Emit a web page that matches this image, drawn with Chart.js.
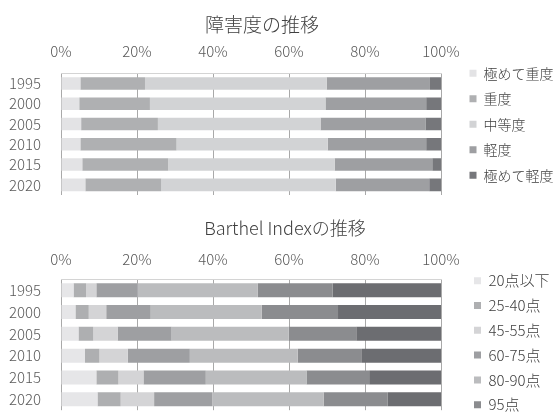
<!DOCTYPE html>
<html>
<head>
<meta charset="utf-8">
<script src="https://cdn.jsdelivr.net/npm/chart.js@4.4.0/dist/chart.umd.min.js"></script>
<style>
html, body { margin: 0; padding: 0; background: #fff; overflow: hidden; }
#wrap { position: relative; width: 553px; height: 412px; overflow: hidden; }
.box { position: absolute; left: 0; width: 553px; }
.ttl { position: absolute; white-space: nowrap; transform: translate(-50%, -50%);
       font-family: "Noto Sans CJK JP", "Noto Sans", sans-serif; font-weight: 300; color: #404040; }
</style>
</head>
<body>
<div id="wrap">
  <div class="box" style="top:0;height:195px"><canvas id="c1"></canvas></div>
  <div class="box" style="top:205px;height:210px"><canvas id="c2"></canvas></div>
  <div class="ttl" style="left:262px;top:23px;font-size:19px">障害度の推移</div>
  <div class="ttl" style="left:285px;top:227px;font-size:18px">Barthel Indexの推移</div>
</div>
<script>
/* globals Chart:false */

var years = ['1995', '2000', '2005', '2010', '2015', '2020'];
var xTicks = [0, 20, 40, 60, 80, 100];

// 障害度 (%)
var sevNames = ['極めて重度', '重度', '中等度', '軽度', '極めて軽度'];
var sevVeryHeavy = [5.1, 4.8, 5.3, 5.1, 5.6, 6.4];
var sevHeavy     = [17.0, 18.6, 20.2, 25.3, 22.6, 20.0];
var sevMiddle    = [47.8, 46.2, 42.8, 39.8, 43.8, 45.9];
var sevLight     = [27.2, 26.5, 27.6, 25.9, 25.7, 24.6];
var sevVeryLight = [2.9, 3.9, 4.1, 3.9, 2.3, 3.1];

// Barthel Index (%)
var biNames = ['20点以下', '25-40点', '45-55点', '60-75点', '80-90点', '95点', '100点'];
var bi20  = [3.3, 3.8, 4.6, 6.3, 9.3, 9.6];
var bi40  = [3.3, 3.5, 3.9, 3.8, 5.8, 6.1];
var bi55  = [2.7, 4.6, 6.4, 7.5, 6.6, 8.8];
var bi75  = [10.8, 11.7, 14.2, 16.3, 16.4, 15.3];
var bi90  = [31.7, 29.2, 30.8, 28.4, 26.5, 29.3];
var bi95  = [19.7, 20.1, 17.8, 16.9, 16.5, 16.9];
var bi100 = [28.5, 27.1, 22.3, 20.8, 18.9, 14.0];

var sevColors = ['#e3e3e5', '#afb0b2', '#d2d3d5', '#9e9fa2', '#76777b'];
var biColors = ['#e6e6e8', '#aeafb1', '#d4d4d6', '#9e9fa2', '#bbbcbe', '#8b8c8f', '#6c6d71'];

Chart.defaults.font.family = '"Noto Sans CJK JP", "Noto Sans", sans-serif';
Chart.defaults.font.weight = '300';

// puts the legend at a fixed place, the way the spreadsheet did
var placeLegend = {
    id: 'placeLegend',
    beforeLayout: function (chart, args, opts) {
        var lg = chart.legend;
        if (lg && !lg._fixed) {
            var fit = lg.fit;
            lg.fit = function () { fit.call(this); this.width = opts.width; };
            lg._fixed = true;
        }
    },
    afterLayout: function (chart, args, opts) {
        var lg = chart.legend;
        lg.left = opts.left;
        lg.right = chart.width;
        lg.top = opts.top;
        lg.bottom = 1000;
    }
};

function makeChart(ctx, names, series, colors, o) {
    var datasets = series.map(function (vals, i) {
        return {
            label: names[i],
            data: vals,
            backgroundColor: colors[i],
            borderWidth: 0,
            barPercentage: o.bar,
            categoryPercentage: 1.0
        };
    });

    return new Chart(ctx, {
        type: 'bar',
        data: { labels: years, datasets: datasets },
        plugins: [placeLegend],
        options: {
            indexAxis: 'y',
            responsive: true,
            maintainAspectRatio: false,
            animation: false,
            layout: { padding: { bottom: o.padBottom } },
            plugins: {
                title: { display: false },
                tooltip: { enabled: false },
                legend: {
                    position: 'right',
                    align: 'start',
                    labels: {
                        boxWidth: 7,
                        boxHeight: 7,
                        padding: o.legPad,
                        color: '#404040',
                        font: { size: o.legFont }
                    }
                },
                placeLegend: { left: o.legLeft, top: o.legTop, width: 112 }
            },
            scales: {
                x: {
                    position: 'top',
                    stacked: true,
                    min: 0,
                    max: 100,
                    afterBuildTicks: function (s) {
                        s.ticks = xTicks.map(function (v) { return { value: v }; });
                    },
                    ticks: {
                        callback: function (v) { return v + '%'; },
                        padding: o.tickPad,
                        color: '#595959',
                        font: { size: 15 },
                        maxRotation: 0
                    },
                    grid: { color: '#a9a9a9', drawTicks: false },
                    border: { display: true, color: '#d4d4d4' },
                    afterFit: function (s) { s.height = o.top; }
                },
                y: {
                    stacked: true,
                    grid: { display: false },
                    border: { display: false },
                    ticks: { autoSkip: false, padding: 12, color: '#595959', font: { size: 15 } },
                    afterFit: function (s) {
                        s.width = 61;
                        s.paddingTop = 0;
                        s.paddingBottom = 0;
                    }
                }
            }
        }
    });
}

makeChart(document.getElementById('c1'), sevNames,
    [sevVeryHeavy, sevHeavy, sevMiddle, sevLight, sevVeryLight], sevColors,
    { bar: 0.62, top: 73.3, tickPad: 13.5, padBottom: 0,
      legFont: 14, legPad: 11.5, legLeft: 458, legTop: 54.8 });

makeChart(document.getElementById('c2'), biNames,
    [bi20, bi40, bi55, bi75, bi90, bi95, bi100], biColors,
    { bar: 0.64, top: 74.3, tickPad: 11, padBottom: 4.8,
      legFont: 15, legPad: 9.8, legLeft: 464.2, legTop: 58.4 });
</script>
</body>
</html>
